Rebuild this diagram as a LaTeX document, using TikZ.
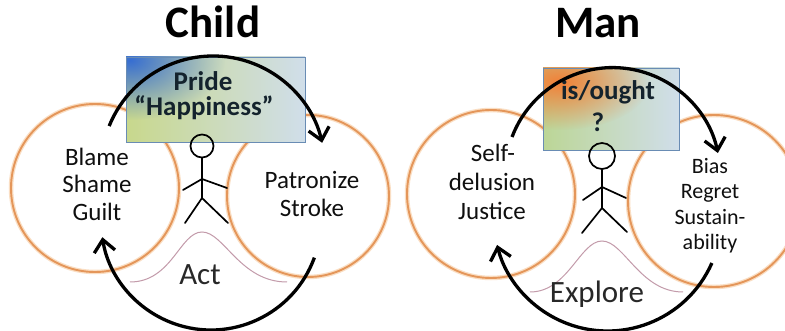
\documentclass[tikz,border=0pt]{standalone}
\usepackage{fontspec}
\setmainfont{Carlito}
\usetikzlibrary{arrows.meta,fadings,calc}
\definecolor{ringO}{RGB}{228,150,90}
\definecolor{ringL}{RGB}{250,222,195}
\definecolor{gaus}{RGB}{195,155,170}
\definecolor{boxB}{RGB}{105,140,180}
\definecolor{blueA}{RGB}{55,110,210}
\definecolor{ygrn}{RGB}{200,216,140}
\definecolor{lgry}{RGB}{208,222,234}
\definecolor{ggrn}{RGB}{188,214,150}
\definecolor{orgA}{RGB}{242,128,55}
\definecolor{txt}{RGB}{15,15,15}
\tikzfading[name=radfade, inner color=transparent!0, outer color=transparent!100]
\tikzset{
  halo/.style={draw=ringL, line width=4.5pt},
  ring/.style={draw=ringO, line width=1.9pt},
  gcurve/.style={draw=gaus, line width=1pt},
  bigarrow/.style={line width=3.3pt, -{Straight Barb[length=12pt,width=21pt]}},
  fig/.style={line width=1.7pt, line cap=round},
  lab/.style={font=\fontsize{25}{28}\selectfont, text=txt, inner sep=0pt, anchor=base},
  slab/.style={font=\fontsize{22}{25}\selectfont, text=txt, inner sep=0pt, anchor=base},
  ttl/.style={font=\bfseries\fontsize{45}{48}\selectfont, text=black, inner sep=0pt, anchor=base},
  btxt/.style={font=\bfseries\fontsize{27}{30}\selectfont, text={rgb,255:red,20;green,35;blue,45}, inner sep=0pt, anchor=base},
  bigtxt/.style={font=\fontsize{31}{34}\selectfont, text={rgb,255:red,40;green,40;blue,40}, inner sep=0pt, anchor=base},
  boxedge/.style={draw=boxB, line width=0.8pt}
}
\begin{document}
\begin{tikzpicture}[x=1pt,y=1pt]
\useasboundingbox (0,0) rectangle (785,-331);
\fill[white] (0,0) rectangle (785,-331);

% ---------- circles ----------
\foreach \cx/\cy/\r in {95/188/84, 308/196/81, 491/194/84, 714/201/86}{
  \draw[halo] (\cx,-\cy) circle[radius=\r];
  \draw[ring] (\cx,-\cy) circle[radius=\r];
}

% ---------- gaussian curves ----------
\draw[gcurve] (130,-282) .. controls (172,-282) and (180,-232) .. (202,-232)
   .. controls (224,-232) and (240,-282) .. (287,-282);
\draw[gcurve] (530,-292) .. controls (568,-292) and (580,-241) .. (602,-241)
   .. controls (624,-241) and (640,-292) .. (683,-292);

% ---------- gradient boxes ----------
\begin{scope}
  \clip (126,-57) rectangle (305,-142);
  \shade[left color=ygrn, right color=lgry] (126,-57) rectangle (305,-142);
  \fill[blueA, path fading=radfade] (130,-60) ellipse (95 and 60);
\end{scope}
\draw[boxedge] (126,-57) rectangle (305,-142);

\begin{scope}
  \clip (543,-68) rectangle (679,-150);
  \shade[left color=ggrn, right color=lgry] (543,-68) rectangle (679,-150);
  \fill[orgA, path fading=radfade] (560,-82) ellipse (90 and 48);
\end{scope}
\draw[boxedge] (543,-68) rectangle (679,-150);

% ---------- stick figures ----------
\node[draw, circle, line width=1.7pt, minimum size=23pt, inner sep=0pt] (headL) at (202,-146) {};
\coordinate (shL) at (202,-179);
\coordinate (hipL) at (202,-198);
\coordinate (haL) at (183,-190);
\coordinate (hbL) at (227,-188);
\coordinate (faL) at (185,-223);
\coordinate (fbL) at (228,-223);
\draw[fig] (headL.south) -- (hipL);
\draw[fig] (haL) -- (shL) -- (hbL);
\draw[fig] (faL) -- (hipL) -- (fbL);

\node[draw, circle, line width=1.7pt, minimum size=26pt, inner sep=0pt] (headR) at (602,-156) {};
\coordinate (shR) at (602,-187);
\coordinate (hipR) at (602,-208);
\coordinate (haR) at (583,-200);
\coordinate (hbR) at (626,-198);
\coordinate (faR) at (582,-233);
\coordinate (fbR) at (627,-232);
\draw[fig] (headR.south) -- (hipR);
\draw[fig] (haR) -- (shR) -- (hbR);
\draw[fig] (faR) -- (hipR) -- (fbR);

% ---------- texts ----------
\node[ttl] (child) at (213,-38) {Child};
\node[ttl] (man) at (598,-38) {Man};

\node[btxt] (pride) at (203,-91) {Pride};
\node[btxt] (happy) at (204,-116) {“Happiness”};
\node[btxt] (isought) at (608,-100) {is/ought};
\node[btxt] (qm) at (598,-132) {?};

\node[lab] (blame) at (97,-166) {Blame};
\node[lab] (shame) at (97,-193) {Shame};
\node[lab] (guilt) at (97,-221) {Guilt};
\node[lab] (patron) at (312,-189) {Patronize};
\node[lab] (stroke) at (312,-217) {Stroke};

\node[lab] (self) at (493,-162) {Self-};
\node[lab] (delus) at (492,-191) {delusion};
\node[lab] (just) at (492,-220) {Justice};
\node[slab] (bias) at (710,-174) {Bias};
\node[slab] (regret) at (710,-199) {Regret};
\node[slab] (sust) at (710,-225) {Sustain-};
\node[slab] (abil) at (710,-250) {ability};

\node[bigtxt] (act) at (200,-285) {Act};
\node[bigtxt] (explore) at (597,-303) {Explore};

% ---------- curved arrows ----------
\coordinate (cTL) at (213,-168);
\coordinate (cBL) at (211,-220);
\coordinate (cTR) at (612.6,-175.2);
\coordinate (cBR) at (607.6,-217);
\draw[bigarrow] ($(cTL)+(158:112)$) arc[start angle=158, end angle=13, radius=112];
\draw[bigarrow] ($(cBL)+(-20:110)$) arc[start angle=-20, end angle=-171, radius=110];
\draw[bigarrow] ($(cTR)+(159.2:107.6)$) arc[start angle=159.2, end angle=11.9, radius=107.6];
\draw[bigarrow] ($(cBR)+(-23.8:114)$) arc[start angle=-23.8, end angle=-165.8, radius=114];
\end{tikzpicture}
\end{document}
